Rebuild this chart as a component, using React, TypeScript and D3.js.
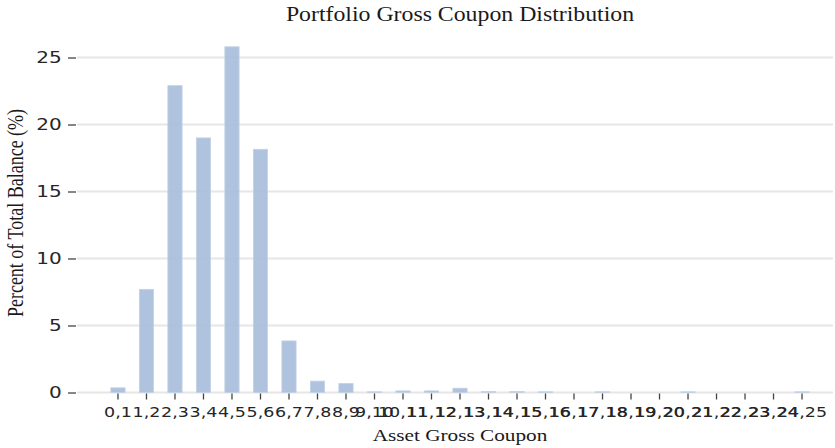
import React, { useRef, useEffect } from 'react'
import * as d3 from 'd3'

// coupon buckets 0..24 -> labels "0,1" ... "24,25"
const buckets = d3.range(0, 25)
const bucketLabels = buckets.map((b) => `${b},${b + 1}`)
const pctBalance = [
  0.35, 7.7, 22.9, 19.0, 25.8, 18.15, 3.85, 0.85, 0.68, 0.05,
  0.12, 0.12, 0.32, 0.07, 0.07, 0.05, 0.0, 0.05, 0.0, 0.0,
  0.05, 0.0, 0.0, 0.0, 0.05,
]
const yTicks = [0, 5, 10, 15, 20, 25]

// the source image is a bit wide, text is stretched sideways
const stretch = 1.25

function App() {
  const svgRef = useRef<SVGSVGElement>(null)

  useEffect(() => {
    const width = 835
    const height = 448
    const svg = d3.select(svgRef.current)
    svg.selectAll('*').remove()
    svg.attr('width', width).attr('height', height)

    const gridLeft = 77
    const gridRight = 833

    const x = d3.scaleBand<string>()
      .domain(bucketLabels)
      .range([96.6, 823.4])
      .paddingInner(0.5)
      .paddingOuter(0.5)

    const y = d3.scaleLinear()
      .domain([0, 25])
      .range([392.5, 57.5])

    // grid
    svg.append('g')
      .selectAll('line')
      .data(yTicks)
      .join('line')
      .attr('x1', gridLeft)
      .attr('x2', gridRight)
      .attr('y1', (d) => y(d))
      .attr('y2', (d) => y(d))
      .style('stroke', '#e6e6e6')
      .style('stroke-width', 2)

    // bars
    svg.append('g')
      .selectAll('rect')
      .data(pctBalance)
      .join('rect')
      .attr('x', (d, i) => x(bucketLabels[i])!)
      .attr('width', x.bandwidth())
      .attr('y', (d) => y(d))
      .attr('height', (d) => y(0) - y(d))
      .style('fill', '#a7bcda')
      .style('fill-opacity', 0.9)
      .style('stroke', '#c3d2e6')
      .style('stroke-width', 0.8)

    // y axis (no domain line)
    const yAxis = svg.append('g')
      .attr('transform', 'translate(76,0)')
      .call(d3.axisLeft(y).tickValues(yTicks).tickSize(8))
    yAxis.select('.domain').remove()
    yAxis.selectAll('line').style('stroke', '#444').style('stroke-width', 1.3)
    yAxis.selectAll('text')
      .attr('x', -11.5)
      .attr('transform', `scale(${stretch},1)`)
      .style('font-family', 'DejaVu Sans')
      .style('font-size', '16px')
      .style('fill', '#262626')

    // x axis
    const xAxis = svg.append('g')
      .attr('transform', `translate(0,${y(0) + 1})`)
      .call(d3.axisBottom(x).tickSize(6).tickPadding(7.6))
    xAxis.select('.domain').remove()
    xAxis.selectAll('line').style('stroke', '#444').style('stroke-width', 1.3)
    xAxis.selectAll('text')
      .attr('transform', `scale(${stretch},1)`)
      .style('font-family', 'DejaVu Sans')
      .style('font-size', '14px')
      .style('fill', '#262626')

    svg.append('text')
      .attr('transform', `translate(460,21) scale(1.19,1)`)
      .attr('text-anchor', 'middle')
      .style('font-family', 'Liberation Serif')
      .style('font-size', '20px')
      .style('fill', '#1a1a1a')
      .text('Portfolio Gross Coupon Distribution')

    svg.append('text')
      .attr('transform', `translate(460,441) scale(${stretch},1)`)
      .attr('text-anchor', 'middle')
      .style('font-family', 'Liberation Serif')
      .style('font-size', '17px')
      .style('fill', '#1a1a1a')
      .text('Asset Gross Coupon')

    svg.append('text')
      .attr('transform', `translate(23,213) scale(${stretch},1) rotate(-90)`)
      .attr('text-anchor', 'middle')
      .style('font-family', 'Liberation Serif')
      .style('font-size', '18px')
      .style('fill', '#1a1a1a')
      .text('Percent of Total Balance (%)')
  }, [])

  return (
    <div style={{ position: 'absolute', left: 0, top: 0, width: 835, height: 448, overflow: 'hidden' }}>
      <svg ref={svgRef} style={{ display: 'block' }}></svg>
    </div>
  )
}

export default App
